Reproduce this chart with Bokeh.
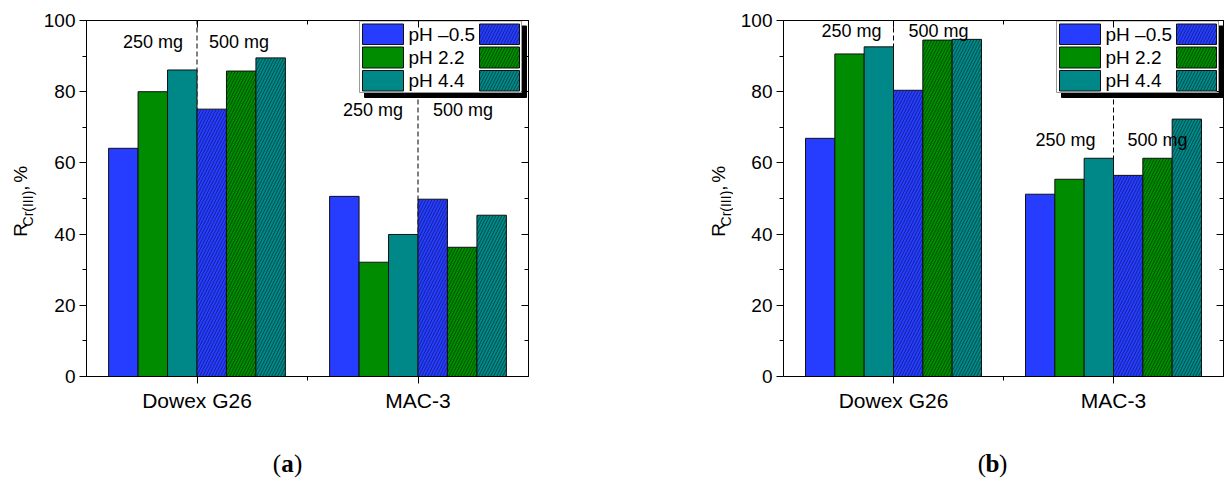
from bokeh.plotting import figure
from bokeh.models import Range1d, LinearAxis, FixedTicker, SingleIntervalTicker
from bokeh.layouts import row, column
from bokeh.embed import file_html
from bokeh.resources import INLINE
from bokeh.core.properties import value

# ---------------- data ----------------
categories = ["Dowex G26", "MAC-3"]
series_labels = ["pH \u20130.5", "pH 2.2", "pH 4.4"]
dose_labels = ["250 mg", "500 mg"]

# panel (a): 250 mg
a_250_ph_m05 = [64.1, 50.6]
a_250_ph_22 = [80.0, 32.1]
a_250_ph_44 = [86.1, 39.9]
# panel (a): 500 mg
a_500_ph_m05 = [75.1, 49.8]
a_500_ph_22 = [85.8, 36.3]
a_500_ph_44 = [89.5, 45.3]

# panel (b): 250 mg
b_250_ph_m05 = [66.9, 51.2]
b_250_ph_22 = [90.6, 55.4]
b_250_ph_44 = [92.6, 61.3]
# panel (b): 500 mg
b_500_ph_m05 = [80.4, 56.5]
b_500_ph_22 = [94.5, 61.3]
b_500_ph_44 = [94.7, 72.3]

# ---------------- style ----------------
FONT = "Liberation Sans"
COLORS = ["#263CFF", "#008C00", "#008787"]
HATCH = dict(hatch_pattern="/", hatch_color="black", hatch_alpha=0.75,
             hatch_scale=6, hatch_weight=0.55)
FRAME_TOP = 20
FRAME_H = 356
ROW_H = 420
TAG_H = 72


def blank_fig(w, h):
    f = figure(x_range=Range1d(0, w), y_range=Range1d(0, h), width=w, height=h,
               x_axis_type=None, y_axis_type=None, toolbar_location=None,
               output_backend="svg", min_border=0,
               min_border_left=0, min_border_right=0, min_border_top=0, min_border_bottom=0)
    f.grid.visible = False
    f.outline_line_color = None
    return f


def ytitle_fig(w, base_x):
    """R_Cr(III), %  written bottom-to-top; pieces centred so rotation is unambiguous."""
    f = blank_fig(w, ROW_H)
    big, small = 19, 14
    r_w = 0.722 * big
    sub_w = 2.555 * small
    comma_w = 0.278 * big
    gap_w = 0.278 * big
    pct_w = 0.889 * big
    y0 = 254.0  # start (bottom) of the title, screen px
    ys = y0 - r_w - 0.5
    yc = ys - sub_w - 3.5
    pieces = [
        ("R", big, base_x - 0.35 * big, y0 - r_w / 2),
        ("Cr(III)", small, base_x + 5.5 - 0.35 * small, ys - sub_w / 2),
        (",", big, base_x - 0.35 * big, yc - comma_w / 2),
        ("%", big, base_x - 0.35 * big, yc - comma_w - gap_w - pct_w / 2),
    ]
    for txt, fs, cx, cy in pieces:
        f.text(x=[cx], y=[ROW_H - cy], text=[txt], angle=1.5708,
               text_font=value(FONT), text_font_size=f"{fs}px", text_color="black",
               text_align="center", text_baseline="middle")
    return f


def make_panel(s250, s500, frame_left, frame_w, fig_w, mg_pos):
    right_border = fig_w - frame_left - frame_w
    p = figure(x_range=Range1d(0.5, 2.5), y_range=Range1d(0, 100),
               frame_width=frame_w, frame_height=FRAME_H,
               min_border_left=frame_left, min_border_right=right_border,
               min_border_top=FRAME_TOP, min_border_bottom=ROW_H - FRAME_TOP - FRAME_H,
               toolbar_location=None, output_backend="svg")
    p.grid.visible = False
    p.outline_line_color = None

    def X(sx):
        return 0.5 + (sx - frame_left) * 2.0 / frame_w

    def Y(sy):
        return (FRAME_TOP + FRAME_H - sy) * 100.0 / FRAME_H

    # bottom axis
    xa = p.xaxis[0]
    xa.ticker = FixedTicker(ticks=[1, 2], minor_ticks=[1.5])
    xa.major_label_overrides = {1: categories[0], 2: categories[1]}
    xa.major_label_text_font = FONT
    xa.major_label_text_font_size = "21px"
    xa.major_label_text_color = "black"
    xa.major_tick_in = 0
    xa.major_tick_out = 7
    xa.minor_tick_in = 0
    xa.minor_tick_out = 4
    xa.major_label_standoff = 5
    xa.axis_line_color = "black"
    xa.major_tick_line_color = "black"
    xa.minor_tick_line_color = "black"

    # left axis
    ya = p.yaxis[0]
    ya.ticker = SingleIntervalTicker(interval=20, num_minor_ticks=2)
    ya.major_label_text_font = FONT
    ya.major_label_text_font_size = "19px"
    ya.major_label_text_color = "black"
    ya.major_tick_in = 0
    ya.major_tick_out = 7
    ya.minor_tick_in = 0
    ya.minor_tick_out = 4
    ya.major_label_standoff = 4
    ya.axis_line_color = "black"
    ya.major_tick_line_color = "black"
    ya.minor_tick_line_color = "black"

    # right / top axes: inward ticks, no labels
    common = dict(major_label_text_font_size="1px", major_label_text_color=None,
                  major_label_standoff=0,
                  major_tick_in=7, major_tick_out=0, minor_tick_in=4, minor_tick_out=0,
                  axis_line_color="black", major_tick_line_color="black",
                  minor_tick_line_color="black")
    p.add_layout(LinearAxis(ticker=SingleIntervalTicker(interval=20, num_minor_ticks=2),
                            **common), "right")
    p.add_layout(LinearAxis(ticker=FixedTicker(ticks=[1, 2], minor_ticks=[1.5]),
                            **common), "above")

    # dashed separators between 250 mg and 500 mg groups (bars drawn over them)
    p.segment(x0=[1, 2], y0=[0, 0], x1=[1, 2], y1=[100, 100],
              line_color="black", line_width=1, line_dash="5 3")

    # bars
    w = 0.8 / 6
    cats_x = [1, 2]
    for i, vals in enumerate(s250):
        off = (-2.5 + i) * w
        p.vbar(x=[c + off for c in cats_x], top=vals, bottom=0, width=w,
               fill_color=COLORS[i], line_color="#111111", line_width=1)
    for i, vals in enumerate(s500):
        off = (0.5 + i) * w
        p.vbar(x=[c + off for c in cats_x], top=vals, bottom=0, width=w,
               fill_color=COLORS[i], line_color="#111111", line_width=1, **HATCH)

    # dose labels
    tx, ty, tt = [], [], []
    for ci, (dx1, dx2, yv) in enumerate(mg_pos):
        c = cats_x[ci]
        tx += [c + dx1 * 2.0 / frame_w, c + dx2 * 2.0 / frame_w]
        ty += [yv, yv]
        tt += dose_labels
    p.text(x=tx, y=ty, text=tt, text_font=value(FONT), text_font_size="18px",
           text_align="center", text_baseline="middle", text_color="black")

    # legend (drawn by hand: solid swatch, label, hatched swatch, drop shadow)
    bl, br, bt, bb = frame_left + 273, frame_left + 435, FRAME_TOP + 0.5, FRAME_TOP + 72
    sh = 5
    p.quad(left=[X(bl + sh)], right=[X(br + sh)], top=[Y(bt + sh)], bottom=[Y(bb + sh)],
           fill_color="black", line_color="black")
    p.quad(left=[X(bl)], right=[X(br)], top=[Y(bt)], bottom=[Y(bb)],
           fill_color="white", line_color="#9a9a9a", line_width=1)
    rows = [(3.5, 24), (26.5, 47.5), (50, 70.5)]
    for i, (r0, r1) in enumerate(rows):
        top, bot = Y(FRAME_TOP + r0), Y(FRAME_TOP + r1)
        p.quad(left=[X(frame_left + 276)], right=[X(frame_left + 317)], top=[top], bottom=[bot],
               fill_color=COLORS[i], line_color="#111111", line_width=1)
        p.quad(left=[X(frame_left + 393)], right=[X(frame_left + 433)], top=[top], bottom=[bot],
               fill_color=COLORS[i], line_color="#111111", line_width=1, **HATCH)
        p.text(x=[X(frame_left + 322)], y=[(top + bot) / 2], text=[series_labels[i]],
               text_font=value(FONT), text_font_size="19px", text_align="left",
               text_baseline="middle", text_color="black")
    return p


def tag_fig():
    f = blank_fig(1225, TAG_H)
    ty = TAG_H - (463 - ROW_H)
    for tag, cx in [("a", 287), ("b", 992)]:
        f.text(x=[cx - 6.5], y=[ty], text=["("], text_font=value("Liberation Serif"),
               text_font_size="25px", text_align="right", text_baseline="middle",
               text_color="black")
        f.text(x=[cx], y=[ty], text=[tag], text_font=value("Liberation Serif"),
               text_font_size="25px", text_font_style="bold", text_align="center",
               text_baseline="middle", text_color="black")
        f.text(x=[cx + 6.5], y=[ty], text=[")"], text_font=value("Liberation Serif"),
               text_font_size="25px", text_align="left", text_baseline="middle",
               text_color="black")
    return f


# panel (a): frame at x 85..527 ; panel (b): frame at x 782..1222
ya_fig = ytitle_fig(40, 27)
pa = make_panel([a_250_ph_m05, a_250_ph_22, a_250_ph_44],
                [a_500_ph_m05, a_500_ph_22, a_500_ph_44],
                45, 442, 572,
                [(-44, 42, 94.0), (-45, 45, 74.8)])
yb_fig = ytitle_fig(120, 724 - 612)
pb = make_panel([b_250_ph_m05, b_250_ph_22, b_250_ph_44],
                [b_500_ph_m05, b_500_ph_22, b_500_ph_44],
                50, 440, 493,
                [(-42, 45, 97.0), (-48, 44, 66.4)])

layout = column(row(ya_fig, pa, yb_fig, pb, spacing=0), tag_fig(), spacing=0)
open("out.html", "w").write(file_html(layout, INLINE))
